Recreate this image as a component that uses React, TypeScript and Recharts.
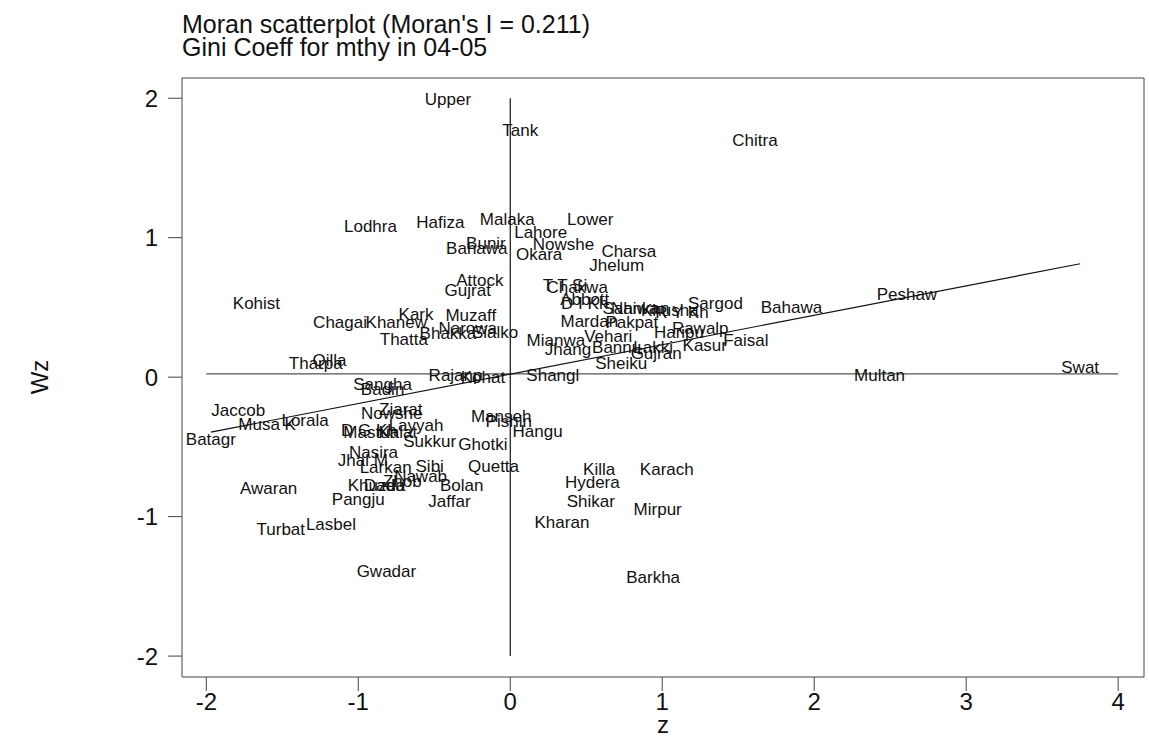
import React from 'react';
import { ScatterChart, Scatter, XAxis, YAxis, ReferenceLine } from 'recharts';

const FONT = '"Liberation Sans", Arial, Helvetica, sans-serif';

const names = [
  'Upper', 'Tank', 'Chitra', 'Lodhra', 'Hafiza', 'Malaka', 'Lower', 'Lahore', 'Bunir', 'Bahawa',
  'Nowshe', 'Okara', 'Charsa', 'Jhelum', 'Attock', 'Gujrat', 'Chakwa', 'T T Si', 'Abbott', 'D I Kh',
  'Sahiwa', 'Nankan', 'Khusha', 'R Y Kh', 'Sargod', 'Bahawa', 'Peshaw', 'Mardan', 'Pakpat', 'Rawalp',
  'Haripu', 'Faisal', 'Kasur', 'Vehari', 'Mianwa', 'Jhang', 'Bannu', 'Lakki', 'Gujran', 'Sheiku',
  'Shangl', 'Kohist', 'Chagai', 'Khanew', 'Kark', 'Thatta', 'Muzaff', 'Bhakka', 'Narowa', 'Sialko',
  'Tharpa', 'Qilla', 'Sangha', 'Badin', 'Rajanp', 'Kohat', 'Jaccob', 'Musa K', 'Lorala', 'Batagr',
  'Nowshe', 'Ziarat', 'Layyah', 'Mastun', 'D G Kh', 'Kalat', 'Sukkur', 'Ghotki', 'Nasira', 'Jhal M',
  'Larkan', 'Sibi', 'Nawab', 'Zhob', 'Khuzda', 'Dadu', 'Bolan', 'Pangju', 'Jaffar', 'Awaran',
  'Turbat', 'Lasbel', 'Gwadar', 'Manseh', 'Pishin', 'Hangu', 'Quetta', 'Killa', 'Hydera', 'Shikar',
  'Kharan', 'Karach', 'Mirpur', 'Barkha', 'Multan', 'Swat',
];

const zValues = [
  -0.41, 0.066, 1.61, -0.92, -0.46, -0.02, 0.526, 0.2, -0.16, -0.22,
  0.35, 0.19, 0.78, 0.7, -0.2, -0.28, 0.44, 0.36, 0.49, 0.49,
  0.79, 0.855, 1.05, 1.13, 1.35, 1.85, 2.61, 0.52, 0.8, 1.25,
  1.11, 1.55, 1.28, 0.645, 0.3, 0.38, 0.7, 0.94, 0.96, 0.73,
  0.28, -1.67, -1.12, -0.75, -0.62, -0.7, -0.26, -0.41, -0.28, -0.1,
  -1.28, -1.19, -0.84, -0.84, -0.36, -0.18, -1.79, -1.6, -1.35, -1.97,
  -0.78, -0.72, -0.62, -0.915, -0.93, -0.74, -0.53, -0.18, -0.9, -0.97,
  -0.82, -0.53, -0.59, -0.71, -0.88, -0.83, -0.32, -1.0, -0.4, -1.59,
  -1.51, -1.18, -0.815, -0.06, -0.01, 0.18, -0.11, 0.585, 0.54, 0.53,
  0.34, 1.03, 0.97, 0.94, 2.43, 3.75,
];

const wzValues = [
  1.99, 1.77, 1.7, 1.08, 1.108, 1.13, 1.13, 1.04, 0.96, 0.92,
  0.95, 0.88, 0.9, 0.8, 0.69, 0.62, 0.645, 0.66, 0.56, 0.53,
  0.49, 0.49, 0.48, 0.46, 0.53, 0.5, 0.595, 0.4, 0.395, 0.35,
  0.32, 0.265, 0.23, 0.29, 0.26, 0.2, 0.21, 0.215, 0.17, 0.1,
  0.01, 0.53, 0.39, 0.39, 0.45, 0.27, 0.44, 0.315, 0.35, 0.32,
  0.1, 0.12, -0.05, -0.09, 0.01, 0.0, -0.24, -0.34, -0.31, -0.445,
  -0.26, -0.23, -0.345, -0.395, -0.38, -0.4, -0.46, -0.48, -0.54, -0.595,
  -0.65, -0.64, -0.71, -0.745, -0.78, -0.78, -0.775, -0.88, -0.89, -0.8,
  -1.09, -1.06, -1.39, -0.28, -0.32, -0.39, -0.64, -0.66, -0.755, -0.89,
  -1.04, -0.66, -0.95, -1.44, 0.01, 0.07,
];

const xTicks = [-2, -1, 0, 1, 2, 3, 4];
const yTicks = [-2, -1, 0, 1, 2];
const xDomain = [-2.16, 4.17];
const yDomain = [-2.15, 2.145];

// fitted line Wz = a + b z, drawn from min z to max z
const fitZ = [-1.97, 3.75];
const fitWz = [-0.394, 0.813];
// mean reference lines
const meanWz = 0.024;
const meanZ = 0;
const hLineZ = [-2, 4];
const vLineWz = [-2, 2];

const data = names.map((name, i) => ({ name, z: zValues[i], wz: wzValues[i] }));

const LabelShape = (props: any) => {
  const { cx, cy } = props;
  const name = props.payload?.name ?? props.name;
  if (cx == null || cy == null) return null;
  return (
    <text
      x={cx}
      y={cy}
      textAnchor="middle"
      dominantBaseline="central"
      fontSize={17}
      fill="#111"
      fontFamily={FONT}
      style={{ whiteSpace: 'pre' }}
    >
      {name}
    </text>
  );
};

const axisStroke = '#444';
const tickStyle = { fontSize: 24, fill: '#111', fontFamily: FONT };

export default function App() {
  return (
    <div style={{ position: 'absolute', left: 0, top: 0, width: 1149, height: 738, background: '#fff' }}>
      <ScatterChart
        width={1149}
        height={738}
        margin={{ top: 64, right: 0, bottom: 21, left: 122 }}
      >
        <XAxis
          xAxisId={0}
          type="number"
          dataKey="z"
          domain={xDomain}
          ticks={xTicks}
          interval={0}
          allowDataOverflow
          height={40}
          tickSize={14}
          tickMargin={2}
          stroke={axisStroke}
          tickLine={{ stroke: axisStroke }}
          tick={tickStyle}
        />
        <XAxis
          xAxisId="top"
          orientation="top"
          type="number"
          dataKey="z"
          domain={xDomain}
          ticks={xTicks}
          interval={0}
          allowDataOverflow
          height={14}
          tickSize={14}
          stroke={axisStroke}
          tickLine={{ stroke: axisStroke }}
          tick={false}
        />
        <YAxis
          yAxisId={0}
          type="number"
          dataKey="wz"
          domain={yDomain}
          ticks={yTicks}
          interval={0}
          allowDataOverflow
          width={60}
          tickSize={14}
          tickMargin={10}
          stroke={axisStroke}
          tickLine={{ stroke: axisStroke }}
          tick={tickStyle}
        />
        <YAxis
          yAxisId="right"
          orientation="right"
          type="number"
          dataKey="wz"
          domain={yDomain}
          ticks={yTicks}
          interval={0}
          allowDataOverflow
          width={5}
          tickSize={14}
          stroke={axisStroke}
          tickLine={{ stroke: axisStroke }}
          tick={false}
        />
        <ReferenceLine
          segment={[{ x: hLineZ[0], y: meanWz }, { x: hLineZ[1], y: meanWz }]}
          stroke="#555"
          strokeWidth={1.2}
          ifOverflow="visible"
        />
        <ReferenceLine
          segment={[{ x: meanZ, y: vLineWz[0] }, { x: meanZ, y: vLineWz[1] }]}
          stroke="#111"
          strokeWidth={1.2}
          ifOverflow="visible"
        />
        <ReferenceLine
          segment={[{ x: fitZ[0], y: fitWz[0] }, { x: fitZ[1], y: fitWz[1] }]}
          stroke="#111"
          strokeWidth={1.2}
          ifOverflow="visible"
        />
        <Scatter data={data} dataKey="wz" shape={LabelShape} isAnimationActive={false} />
      </ScatterChart>
      <svg
        width={1149}
        height={738}
        style={{ position: 'absolute', left: 0, top: 0, pointerEvents: 'none' }}
      >
        <text x={182} y={32.5} fontSize={25} fill="#111" fontFamily={FONT}>
          Moran scatterplot (Moran's I = 0.211)
        </text>
        <text x={182} y={56} fontSize={25} fill="#111" fontFamily={FONT}>
          Gini Coeff for mthy in 04-05
        </text>
        <text x={663} y={733} fontSize={24} fill="#111" fontFamily={FONT} textAnchor="middle">
          z
        </text>
        <text
          x={48}
          y={377}
          fontSize={24}
          fill="#111"
          fontFamily={FONT}
          textAnchor="middle"
          transform="rotate(-90, 48, 377)"
        >
          Wz
        </text>
      </svg>
    </div>
  );
}
